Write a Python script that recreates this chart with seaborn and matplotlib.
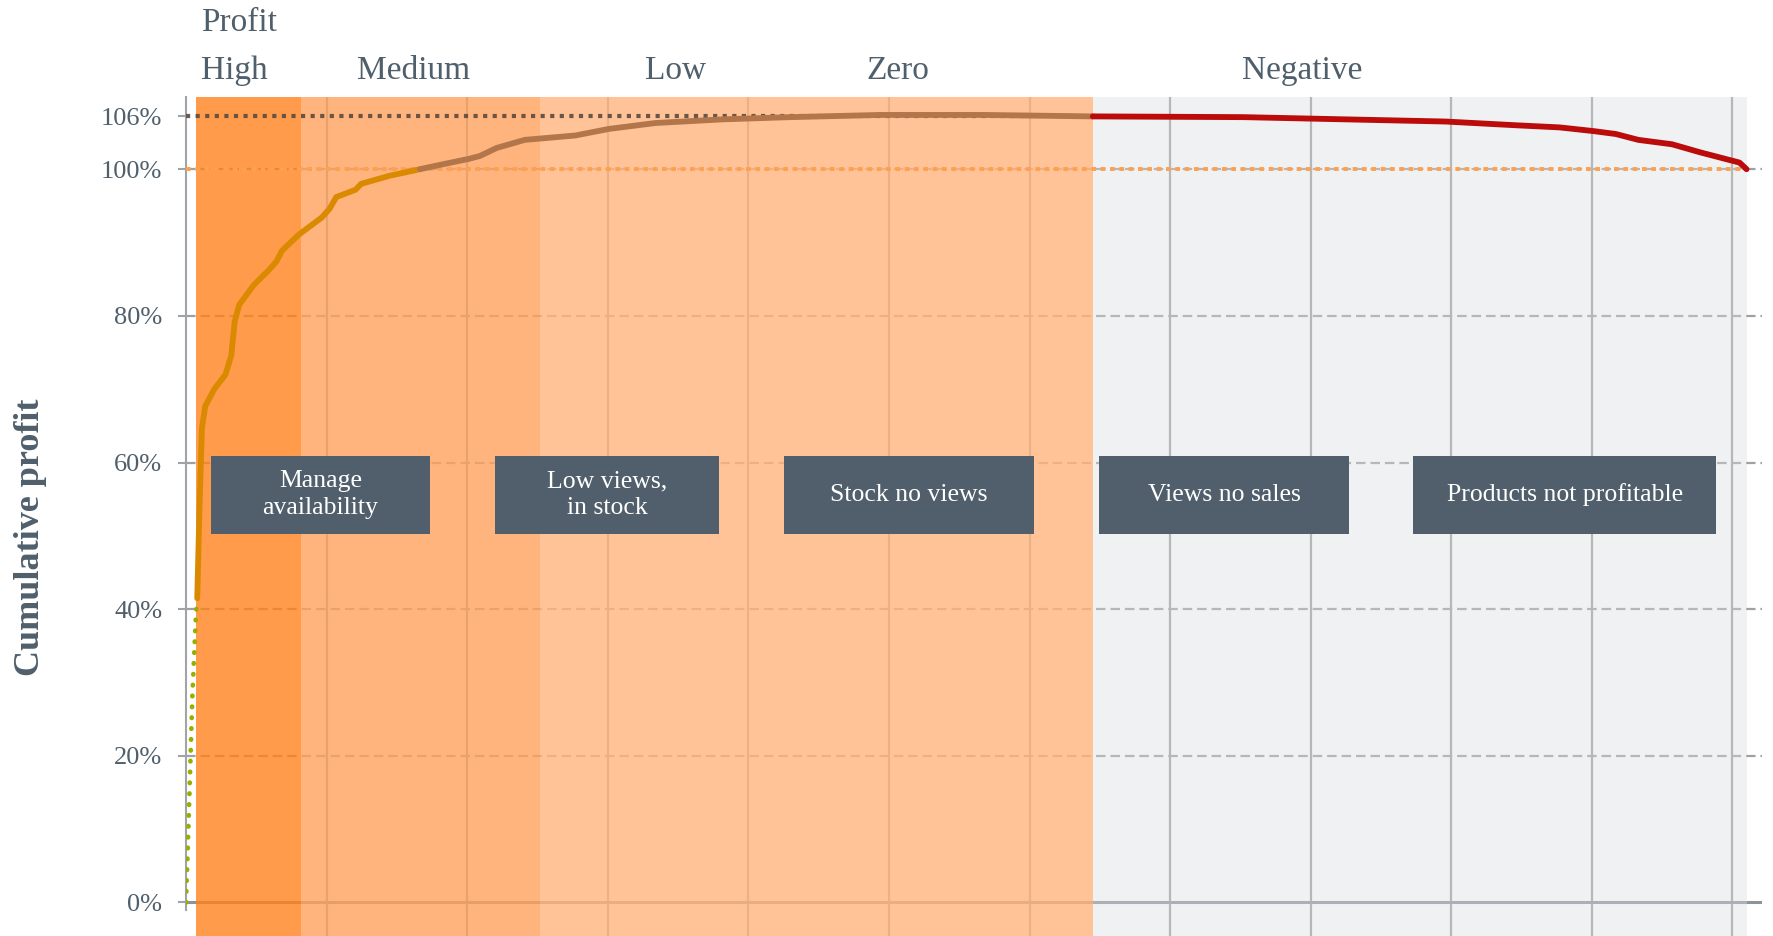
import matplotlib
matplotlib.use('Agg')
import matplotlib.pyplot as plt
import seaborn as sns
import pandas as pd

# cumulative profit curve (x = product rank, y = % of total profit)
ramp_x = [0, 0.02, 0.045, 0.07, 0.08]
ramp_y = [0, 12, 28, 39, 41.5]
top_x = [0.08, 0.096, 0.113, 0.137, 0.201, 0.281, 0.322, 0.346, 0.378, 0.482, 0.587,
         0.643, 0.683, 0.804, 0.965, 1.021, 1.069, 1.206, 1.246, 1.447, 1.664]
top_y = [41.5, 53.8, 64.6, 67.7, 70.0, 72.0, 74.6, 79.2, 81.5, 84.2, 86.2,
         87.4, 88.9, 91.1, 93.4, 94.6, 96.2, 97.2, 98.0, 99.1, 100.0]
tail_x = [1.664, 1.809, 2.01, 2.09, 2.21, 2.41, 2.77, 3.01, 3.34, 3.82, 4.30, 4.94, 5.67, 6.45]
tail_y = [100.0, 100.6, 101.4, 101.8, 102.9, 104.0, 104.6, 105.5, 106.3, 106.8, 107.1, 107.4, 107.4, 107.2]
loss_x = [6.45, 7.52, 8.96, 9.45, 9.77, 10.01, 10.17, 10.33, 10.57, 10.77, 10.93, 11.05, 11.10]
loss_y = [107.2, 107.1, 106.5, 106.0, 105.7, 105.2, 104.8, 104.0, 103.4, 102.3, 101.5, 100.9, 100.0]

peak = 107.2      # top of the curve, labelled 106% on the chart
peak_end = 6.08

# profit segments
band_start = [0.07, 0.82, 2.515, 6.45]
band_end = [0.82, 2.515, 6.45, 11.10]
band_names = ["High", "Medium", "Low", "Zero", "Negative"]
name_x = [0.107, 1.616, 3.48, 5.064, 7.94]

# action boxes
box_labels = ["Manage\navailability", "Low views,\nin stock", "Stock no views",
              "Views no sales", "Products not profitable"]
box_x0 = [0.177, 2.195, 4.252, 6.495, 8.730]
box_x1 = [1.736, 3.794, 6.029, 8.272, 10.884]
box_y0, box_y1 = 50.3, 60.9

ytick_vals = [0, 20, 40, 60, 80, 100, peak]
ytick_labels = ["0%", "20%", "40%", "60%", "80%", "100%", "106%"]

sns.set_theme(style='white')
plt.rcParams['font.family'] = ['Liberation Serif', 'DejaVu Serif']
slate = '#4F5F6B'

fig = plt.figure(figsize=(17.73, 9.36), dpi=100)
ax = fig.add_axes([186 / 1773, 0, (1762 - 186) / 1773, 0.8964])
ax.set_xlim(0, 11.21)
ax.set_ylim(-4.57, 109.85)

# bands, semi transparent so the grid shows through
band_cols = ['#FF821E', '#FFA25E', '#FFB57D']
for x0, x1, c in zip(band_start[:3], band_end[:3], band_cols):
    ax.axvspan(x0, x1, color=c, alpha=0.8, lw=0, zorder=1)
ax.axvspan(band_start[3], band_end[3], color='#D9DCE1', alpha=0.4, lw=0, zorder=1)

# grid
ax.set_axisbelow(True)
ax.set_xticks(range(1, 12))
ax.set_xticklabels([])
ax.set_yticks(ytick_vals)
ax.set_yticklabels(ytick_labels)
ax.xaxis.grid(True, color='#A0A0A0', lw=1.6)
ax.yaxis.grid(False)
for v in ytick_vals[1:6]:
    ax.axhline(v, color='#A0A0A0', lw=1.6, dashes=(4.3, 2.2), zorder=0.5)
ax.axhline(0, color='#8C9399', lw=2.2, zorder=0.6)

for s in ['top', 'right', 'bottom']:
    ax.spines[s].set_visible(False)
ax.spines['left'].set_color('#A0A4A8')
ax.spines['left'].set_linewidth(1.5)
ax.spines['left'].set_bounds(-1, 109.85)
ax.tick_params(axis='y', direction='out', length=6, width=1.5, color='#A0A4A8',
               labelsize=19, labelcolor=slate, pad=11, left=True)
ax.tick_params(axis='x', direction='out', length=6, width=1.5, color='#A0A0A0', bottom=True)

# reference lines
ax.plot([0, peak_end], [peak, peak], color='#5A4A40', lw=3, alpha=0.9,
        linestyle=(0, (1, 1.3)), dash_capstyle='butt', zorder=3)
ax.plot([0, 11.10], [100, 100], color='#FFA04F', lw=2.8,
        linestyle=(0, (1.2, 1.2)), dash_capstyle='butt', zorder=3)

# curve
sns.lineplot(x=ramp_x, y=ramp_y, sort=False, estimator=None, color='#9AAE00', lw=3.4,
             linestyle=(0, (0.1, 2.2)), dash_capstyle='round', zorder=4, ax=ax)
sns.lineplot(x=top_x, y=top_y, sort=False, estimator=None, color='#DA8A00', lw=4.2,
             zorder=4, ax=ax)
sns.lineplot(x=tail_x, y=tail_y, sort=False, estimator=None, color='#B3764A', lw=4.2,
             zorder=4, ax=ax)
sns.lineplot(x=loss_x, y=loss_y, sort=False, estimator=None, color='#BB0B0B', lw=4.2,
             zorder=4, solid_capstyle='round', ax=ax)

# action boxes
for lab, x0, x1 in zip(box_labels, box_x0, box_x1):
    ax.add_patch(plt.Rectangle((x0, box_y0), x1 - x0, box_y1 - box_y0,
                               facecolor='#505F6B', edgecolor='none', zorder=5))
    ax.text((x0 + x1) / 2, (box_y0 + box_y1) / 2, lab, ha='center', va='center',
            color='white', fontsize=18.5, linespacing=1.3, zorder=6)

# segment names above the plot
ax.text(name_x[0], 118.9, "Profit", ha='left', va='baseline', color=slate,
        fontsize=24, clip_on=False)
for i, name in enumerate(band_names):
    ha = 'left' if i == 0 else 'center'
    ax.text(name_x[i], 112.3, name, ha=ha, va='baseline', color=slate,
            fontsize=24, clip_on=False)

fig.text(31 / 1773, 1 - 537 / 936, "Cumulative profit", rotation=90, ha='center',
         va='center', color=slate, fontsize=26, fontweight='bold')

plt.savefig('out.png', dpi=100)
